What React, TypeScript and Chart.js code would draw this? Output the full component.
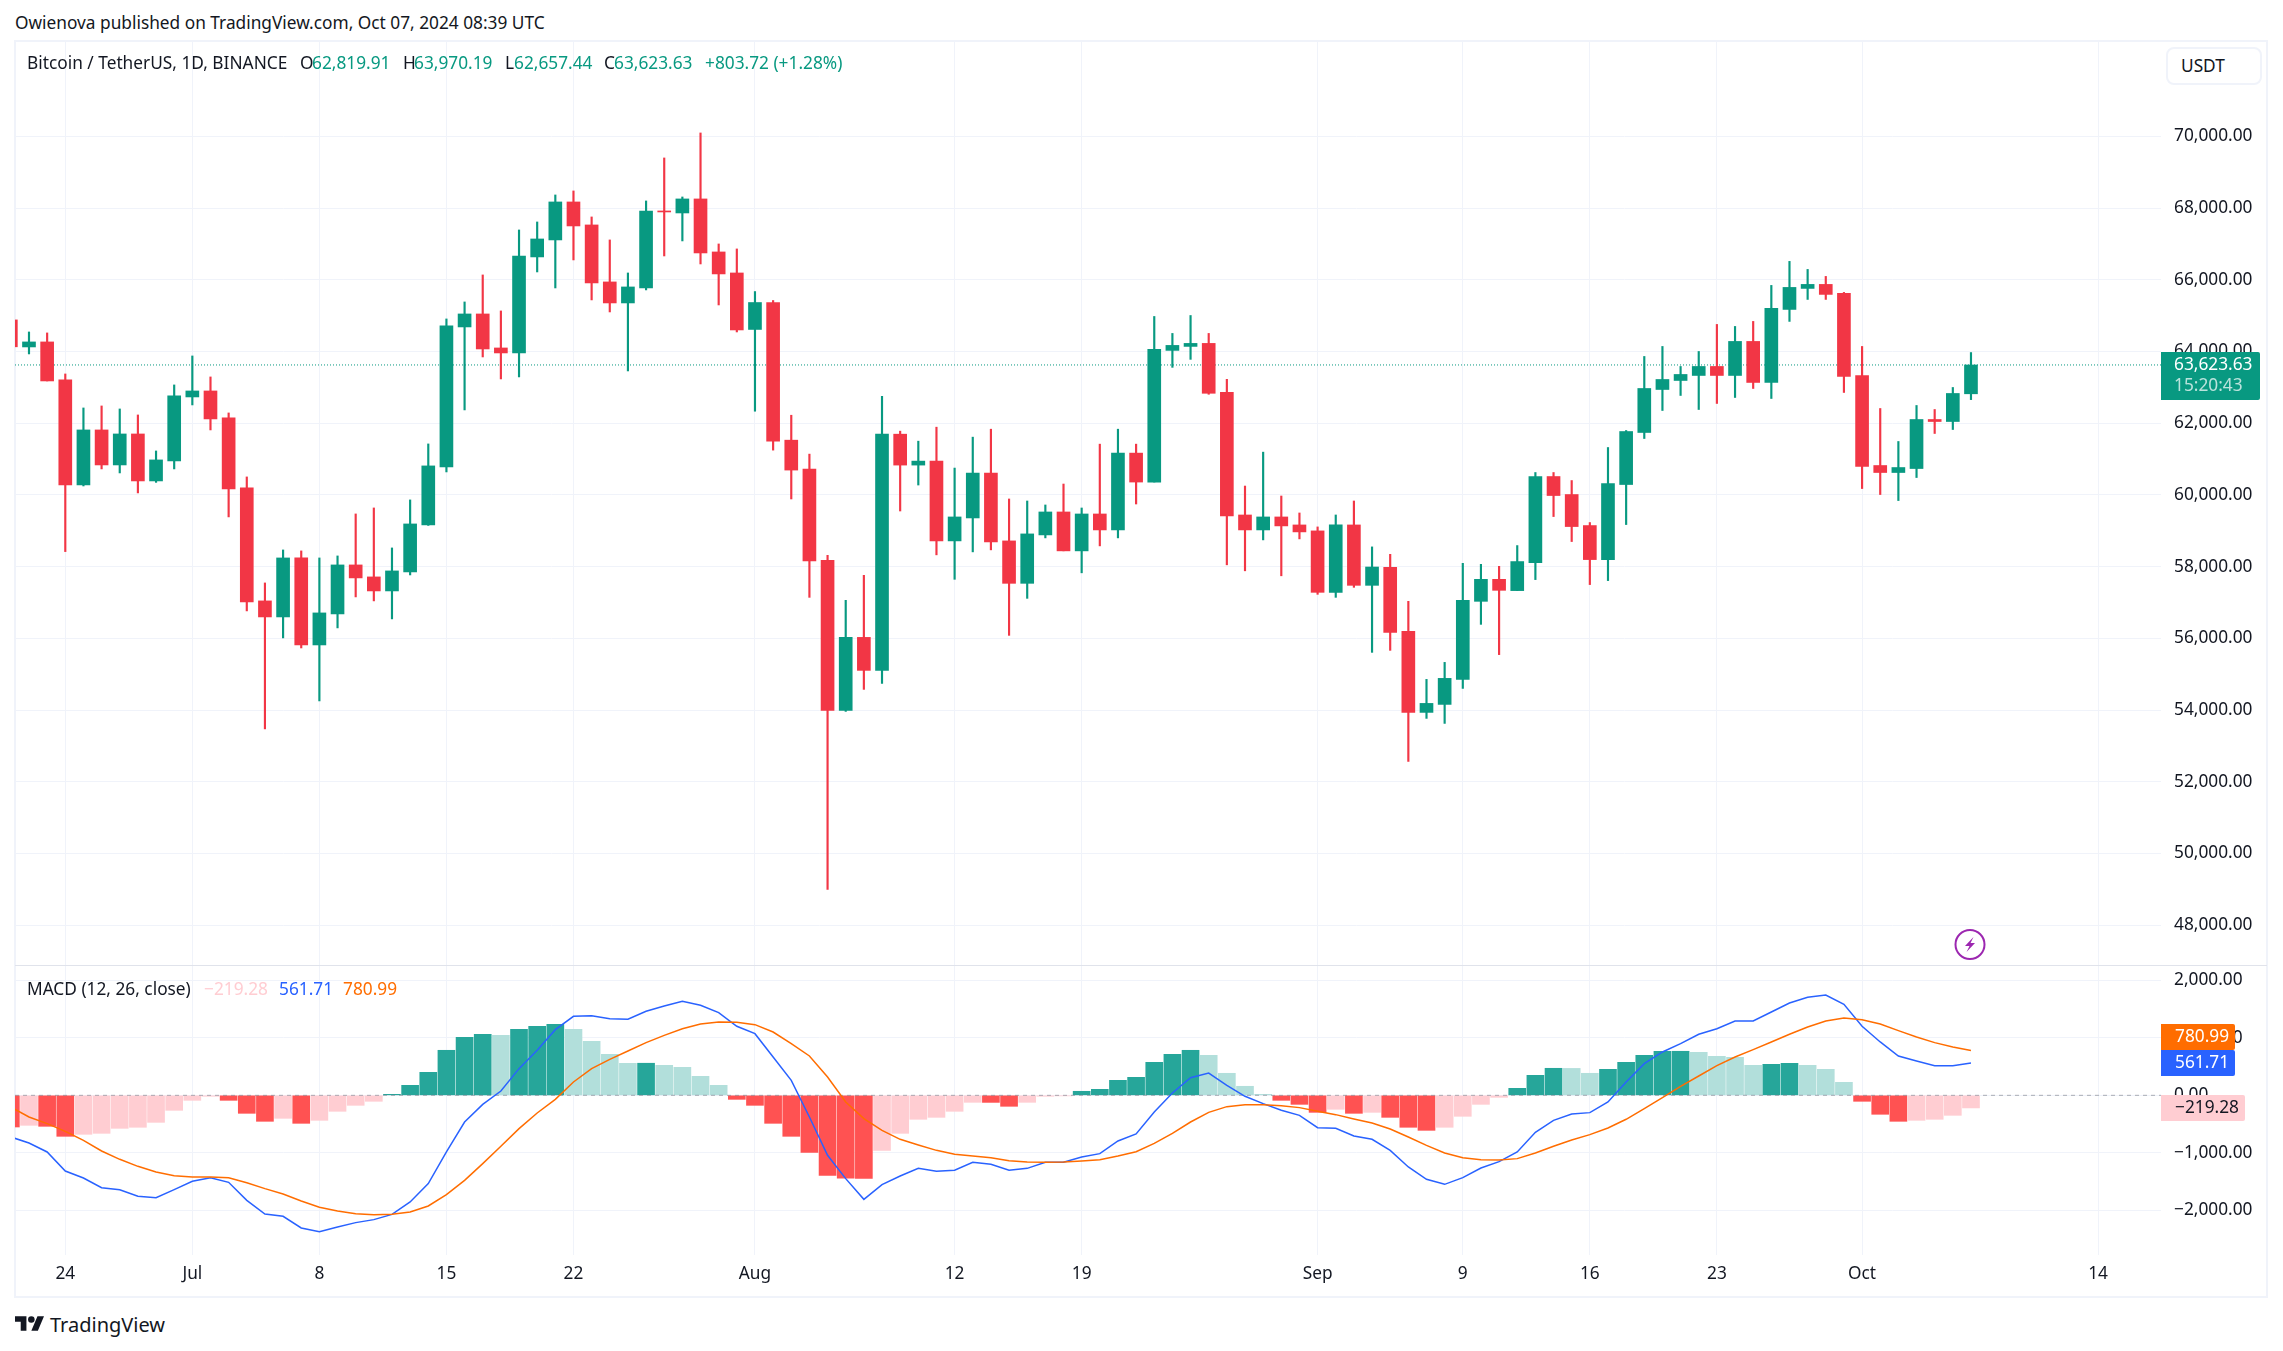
import React, { useEffect, useRef } from "react";
import { Chart, registerables } from "chart.js";

Chart.register(...registerables);

const tickDays = [0, 7, 14, 21, 28, 38, 49, 56, 69, 77, 84, 91, 99, 112];
const tickNames = ["24", "Jul", "8", "15", "22", "Aug", "12", "19", "Sep", "9", "16", "23", "Oct", "14"];
const priceTicks = [48000, 50000, 52000, 54000, 56000, 58000, 60000, 62000, 64000, 66000, 68000, 70000];
const priceTickNames = ["48,000.00", "50,000.00", "52,000.00", "54,000.00", "56,000.00", "58,000.00", "60,000.00", "62,000.00", "64,000.00", "66,000.00", "68,000.00", "70,000.00"];
const macdTicks = [-2000, -1000, 0, 1000, 2000];
const macdTickNames = ["\u22122,000.00", "\u22121,000.00", "0.00", "1,000.00", "2,000.00"];

const opens = [64880, 64126, 64266, 63206, 60279, 61812, 60836, 61700, 60390, 60948, 62732, 62899, 62147, 60195, 57045, 56598, 58243, 55817, 56682, 58048, 57714, 57323, 57853, 59164, 60780, 64684, 65046, 64098, 63959, 66636, 67110, 68169, 67528, 65939, 65353, 65771, 67918, 67862, 68253, 66775, 66189, 64614, 65365, 61527, 60721, 58177, 53992, 56028, 55108, 61694, 60832, 60943, 58718, 59358, 60609, 58718, 57535, 58885, 59525, 58440, 59469, 59024, 61166, 60359, 64030, 64141, 64225, 62862, 59441, 59024, 59386, 59163, 58997, 57284, 59163, 57479, 57981, 56196, 53936, 54159, 54857, 57033, 57647, 57332, 58114, 60513, 60011, 59146, 58197, 60290, 61741, 62940, 63191, 63331, 63582, 63331, 64280, 63136, 65172, 65758, 65870, 65619, 63331, 60820, 60625, 60736, 62103, 62047, 62819.91];
const highs = [64960, 64544, 64517, 63373, 62425, 62481, 62397, 62230, 61226, 63067, 63875, 63290, 62286, 60502, 57546, 58466, 58439, 58243, 58299, 59470, 59637, 58522, 59861, 61422, 64907, 65381, 66134, 65130, 67388, 67611, 68364, 68476, 67751, 67110, 66189, 68197, 69396, 68308, 70093, 66998, 66859, 65671, 65421, 62222, 61138, 58316, 57061, 57758, 62751, 61778, 61499, 61889, 60749, 61611, 61833, 59887, 59831, 59720, 60304, 59636, 61416, 61833, 61416, 64976, 64503, 65003, 64503, 63224, 60248, 61193, 59970, 59497, 59108, 59441, 59831, 58551, 58344, 57033, 54857, 55331, 58093, 58065, 58009, 58588, 60625, 60625, 60401, 59230, 61322, 61796, 63861, 64140, 63582, 64000, 64754, 64698, 64838, 65842, 66512, 66288, 66093, 65647, 64140, 62410, 61490, 62494, 62382, 62996, 63970.19];
const lows = [64050, 63931, 63178, 58420, 60250, 60725, 60613, 60056, 60350, 60725, 62509, 61812, 59387, 56766, 53476, 56013, 55733, 54256, 56292, 57156, 57045, 56543, 57769, 59150, 60641, 62370, 63847, 63234, 63290, 66217, 65771, 66552, 65437, 65102, 63457, 65716, 66663, 67082, 66440, 65297, 64544, 62334, 61249, 59887, 57144, 48998, 53964, 54578, 54745, 59552, 60276, 58329, 57647, 58412, 58468, 56084, 57116, 58802, 58440, 57828, 58579, 58802, 59747, 60359, 63557, 63780, 62806, 58051, 57884, 58746, 57745, 58774, 57228, 57144, 57423, 55610, 55666, 52569, 53769, 53629, 54605, 56391, 55547, 57332, 57639, 59397, 58700, 57500, 57611, 59174, 61573, 62354, 62773, 62382, 62550, 62717, 62968, 62689, 64838, 65451, 65451, 62857, 60178, 60011, 59843, 60485, 61713, 61824, 62657.44];
const closes = [64130, 64266, 63178, 60279, 61812, 60836, 61700, 60390, 60976, 62760, 62899, 62119, 60167, 57017, 56598, 58243, 55817, 56710, 58048, 57686, 57323, 57881, 59191, 60809, 64712, 65046, 64070, 63959, 66663, 67137, 68169, 67500, 65911, 65353, 65799, 67918, 67890, 68253, 66747, 66162, 64600, 65365, 61499, 60693, 58162, 53992, 56028, 55108, 61694, 60832, 60943, 58718, 59386, 60609, 58690, 57535, 58913, 59525, 58440, 59469, 59024, 61166, 60359, 64058, 64169, 64225, 62834, 59414, 59024, 59386, 59136, 58969, 57284, 59163, 57479, 57990, 56168, 53936, 54187, 54885, 57061, 57647, 57340, 58142, 60513, 59983, 59118, 58197, 60317, 61768, 62968, 63219, 63359, 63582, 63331, 64280, 63136, 65200, 65786, 65870, 65591, 63303, 60792, 60625, 60764, 62103, 62047, 62829, 63623.63];
const histogram = [-551, -522, -539, -713, -678, -661, -574, -556, -470, -261, -87, -17, -87, -313, -452, -400, -487, -435, -278, -174, -104, 17, 174, 400, 783, 1009, 1061, 1043, 1148, 1200, 1235, 1148, 939, 713, 556, 558, 522, 487, 330, 174, -70, -174, -487, -713, -991, -1391, -1443, -1445, -957, -661, -417, -383, -278, -122, -123, -191, -122, -17, -10, 70, 104, 261, 313, 574, 713, 783, 696, 383, 157, 17, -87, -157, -296, -243, -313, -296, -383, -556, -609, -556, -365, -157, -35, 122, 348, 470, 468, 383, 452, 574, 696, 765, 766, 748, 678, 661, 522, 539, 556, 522, 452, 226, -104, -330, -452, -435, -417, -348, -219.28];
const macdLine = [-725, -829, -985, -1316, -1438, -1606, -1641, -1756, -1780, -1641, -1496, -1432, -1513, -1826, -2064, -2104, -2307, -2371, -2290, -2214, -2162, -2070, -1855, -1536, -985, -464, -157, 75, 464, 783, 1142, 1374, 1385, 1333, 1322, 1461, 1554, 1635, 1565, 1438, 1200, 1072, 667, 261, -377, -1043, -1449, -1809, -1554, -1403, -1270, -1322, -1304, -1165, -1200, -1304, -1270, -1165, -1165, -1072, -1014, -794, -672, -290, 41, 307, 388, 174, -17, -145, -261, -348, -562, -574, -707, -765, -957, -1246, -1461, -1548, -1432, -1264, -1154, -985, -643, -435, -325, -301, -116, 232, 551, 754, 898, 1061, 1159, 1293, 1293, 1449, 1606, 1704, 1745, 1583, 1200, 928, 684, 597, 516, 516, 561.71];
const signalLine = [-203, -377, -493, -626, -783, -968, -1113, -1235, -1333, -1397, -1420, -1420, -1432, -1519, -1623, -1716, -1838, -1948, -2012, -2058, -2075, -2070, -2029, -1925, -1728, -1478, -1188, -887, -580, -307, -70, 232, 464, 626, 771, 916, 1043, 1159, 1241, 1275, 1270, 1229, 1101, 899, 684, 319, -116, -406, -609, -765, -864, -957, -1026, -1055, -1084, -1136, -1159, -1165, -1159, -1142, -1119, -1055, -980, -835, -661, -464, -296, -197, -162, -162, -180, -214, -278, -336, -412, -481, -586, -725, -870, -1003, -1084, -1119, -1125, -1101, -1003, -887, -777, -684, -568, -417, -232, -41, 157, 336, 516, 667, 794, 928, 1061, 1188, 1293, 1345, 1316, 1241, 1125, 1014, 916, 841, 780.99];

const firstDay = -3;
const lastPrice = 63623.63;
const lastPriceLabel = "63,623.63";
const countdown = "15:20:43";
const lastHist = -219.28;
const lastMacd = 561.71;
const lastSignal = 780.99;

const FONT = '"Noto Sans"';
const TXT = "#131722";
const UP = "#089981";
const DOWN = "#f23645";
const GRID = "#f0f3fa";
const X_MIN = -2.771;
const X_MAX = 115.47;
const AXIS_W = 107;
const FS = 17.3;

const days = opens.map((_, i) => i + firstDay);

const noPadding = (a: any) => {
  a.paddingLeft = 0;
  a.paddingRight = 0;
  a.paddingTop = 0;
  a.paddingBottom = 0;
};

const xScale = (showLabels: boolean) => ({
  type: "linear" as const,
  min: X_MIN,
  max: X_MAX,
  offset: false,
  border: { display: false },
  grid: { color: GRID, lineWidth: 1, drawTicks: false, offset: false },
  afterBuildTicks: (a: any) => {
    a.ticks = tickDays.map((value) => ({ value }));
  },
  afterFit: (a: any) => {
    a.height = showLabels ? 42 : 0;
    noPadding(a);
  },
  ticks: {
    display: showLabels,
    autoSkip: false,
    maxRotation: 0,
    padding: 9,
    color: TXT,
    font: { family: FONT, size: FS },
    callback: (v: any) => tickNames[tickDays.indexOf(v)] ?? "",
  },
});

const yScale = (min: number, max: number, vals: number[], names: string[]) => ({
  type: "linear" as const,
  position: "right" as const,
  min,
  max,
  border: { display: false },
  grid: { color: GRID, lineWidth: 1, drawTicks: false },
  afterBuildTicks: (a: any) => {
    a.ticks = vals.map((value) => ({ value }));
  },
  afterFit: (a: any) => {
    a.width = AXIS_W;
    noPadding(a);
  },
  ticks: {
    autoSkip: false,
    padding: 13,
    color: TXT,
    font: { family: FONT, size: FS },
    callback: (v: any) => names[vals.indexOf(v)] ?? "",
  },
});

function tag(ctx: CanvasRenderingContext2D, x: number, top: number, w: number, h: number, bg: string) {
  ctx.fillStyle = bg;
  ctx.beginPath();
  ctx.roundRect(x, top, w, h, [0, 2, 2, 0]);
  ctx.fill();
}

const priceTag = {
  id: "priceTag",
  afterDraw(chart: any) {
    const { ctx, chartArea: a, scales } = chart;
    const y = scales.y.getPixelForValue(lastPrice);
    ctx.save();
    tag(ctx, a.right, y - 13, 99, 48, UP);
    ctx.textBaseline = "middle";
    ctx.textAlign = "left";
    ctx.font = `${FS}px ${FONT}`;
    ctx.fillStyle = "#ffffff";
    ctx.fillText(lastPriceLabel, a.right + 13, y);
    ctx.fillStyle = "rgba(255,255,255,0.72)";
    ctx.fillText(countdown, a.right + 13, y + 21);
    ctx.restore();
  },
};

const macdTags = {
  id: "macdTags",
  afterDraw(chart: any) {
    const { ctx, chartArea: a, scales } = chart;
    const h = 26;
    const yB = scales.y.getPixelForValue(lastMacd);
    const yO = Math.min(scales.y.getPixelForValue(lastSignal), yB - h);
    const yH = scales.y.getPixelForValue(lastHist);
    ctx.save();
    ctx.textBaseline = "middle";
    ctx.textAlign = "left";
    ctx.font = `${FS}px ${FONT}`;
    tag(ctx, a.right, yO - h / 2, 74, h, "#ff6d00");
    ctx.fillStyle = "#ffffff";
    ctx.fillText(lastSignal.toFixed(2), a.right + 14, yO);
    tag(ctx, a.right, yB - h / 2, 74, h, "#2962ff");
    ctx.fillStyle = "#ffffff";
    ctx.fillText(lastMacd.toFixed(2), a.right + 14, yB);
    tag(ctx, a.right, yH - h / 2, 84, h, "#ffcdd2");
    ctx.fillStyle = TXT;
    ctx.fillText("\u2212" + Math.abs(lastHist).toFixed(2), a.right + 14, yH);
    ctx.restore();
  },
};

const histColor = (v: number, i: number) => {
  if (i === 0) return v >= 0 ? "#26a69a" : "#ff5252";
  const p = histogram[i - 1];
  if (v >= 0) return v > p ? "#26a69a" : "#b2dfdb";
  return v < p ? "#ff5252" : "#ffcdd2";
};

const base = {
  responsive: false,
  animation: false as const,
  devicePixelRatio: 1,
  layout: { padding: 0 },
  events: [] as any[],
  plugins: { legend: { display: false }, tooltip: { enabled: false }, title: { display: false } },
};

const abs = (left: number, top: number, extra: React.CSSProperties = {}): React.CSSProperties => ({
  position: "absolute",
  left,
  top,
  whiteSpace: "nowrap",
  fontFamily: FONT,
  fontSize: FS,
  lineHeight: "24px",
  color: TXT,
  ...extra,
});

export default function App() {
  const priceRef = useRef<HTMLCanvasElement>(null);
  const macdRef = useRef<HTMLCanvasElement>(null);

  useEffect(() => {
    document.body.style.margin = "0";
    const colors = days.map((_, i) => (closes[i] >= opens[i] ? UP : DOWN));
    const price = new Chart(priceRef.current!, {
      type: "bar",
      data: {
        datasets: [
          {
            type: "bar",
            label: "body",
            order: 1,
            data: days.map((x, i) => ({ x, y: [opens[i], closes[i]] })) as any,
            backgroundColor: colors,
            barThickness: 13,
            grouped: false,
          } as any,
          {
            type: "bar",
            label: "wick",
            order: 2,
            data: days.map((x, i) => ({ x, y: [lows[i], highs[i]] })) as any,
            backgroundColor: colors,
            barThickness: 1.5,
            grouped: false,
          } as any,
          {
            type: "line",
            label: "last",
            order: 3,
            data: [
              { x: X_MIN, y: lastPrice },
              { x: X_MAX, y: lastPrice },
            ],
            borderColor: UP,
            borderWidth: 1,
            borderDash: [1, 2],
            pointRadius: 0,
          } as any,
        ],
      },
      options: {
        ...base,
        scales: { x: xScale(false), y: yScale(46865, 72629, priceTicks, priceTickNames) },
      } as any,
      plugins: [priceTag],
    });

    const macd = new Chart(macdRef.current!, {
      type: "bar",
      data: {
        datasets: [
          {
            type: "line",
            label: "signal",
            order: 1,
            data: days.map((x, i) => ({ x, y: signalLine[i] })),
            borderColor: "#ff6d00",
            borderWidth: 1.5,
            pointRadius: 0,
            tension: 0,
          } as any,
          {
            type: "line",
            label: "macd",
            order: 2,
            data: days.map((x, i) => ({ x, y: macdLine[i] })),
            borderColor: "#2962ff",
            borderWidth: 1.5,
            pointRadius: 0,
            tension: 0,
          } as any,
          {
            type: "line",
            label: "zero",
            order: 3,
            data: [
              { x: X_MIN, y: 0 },
              { x: X_MAX, y: 0 },
            ],
            borderColor: "rgba(120,123,134,0.6)",
            borderWidth: 1,
            borderDash: [4, 4],
            pointRadius: 0,
          } as any,
          {
            type: "bar",
            label: "hist",
            order: 4,
            data: days.map((x, i) => ({ x, y: histogram[i] })),
            backgroundColor: histogram.map(histColor),
            barThickness: 17,
            grouped: false,
          } as any,
        ],
      },
      options: {
        ...base,
        scales: { x: xScale(true), y: yScale(-2777, 2249, macdTicks, macdTickNames) },
      } as any,
      plugins: [macdTags],
    });
    return () => {
      price.destroy();
      macd.destroy();
    };
  }, []);

  const green = { color: UP };
  return (
    <div style={{ position: "absolute", left: 0, top: 0, width: 2283, height: 1351, overflow: "hidden", background: "#fff" }}>
      <div style={abs(15, 11)}>Owienova published on TradingView.com, Oct 07, 2024 08:39 UTC</div>
      <div
        style={{
          position: "absolute",
          left: 14,
          top: 40,
          width: 2254,
          height: 1258,
          boxSizing: "border-box",
          border: "2px solid #f0f3fa",
        }}
      />
      <canvas ref={priceRef} width={2253} height={924} style={{ position: "absolute", left: 15, top: 42 }} />
      <div style={{ position: "absolute", left: 15, top: 965, width: 2252, height: 1, background: "#e0e3eb" }} />
      <canvas ref={macdRef} width={2253} height={331} style={{ position: "absolute", left: 15, top: 966 }} />

      <div style={abs(27, 51)}>Bitcoin / TetherUS, 1D, BINANCE</div>
      <div style={abs(300, 51)}>O</div>
      <div style={abs(312, 51, green)}>62,819.91</div>
      <div style={abs(403, 51)}>H</div>
      <div style={abs(414, 51, green)}>63,970.19</div>
      <div style={abs(505, 51)}>L</div>
      <div style={abs(514, 51, green)}>62,657.44</div>
      <div style={abs(604, 51)}>C</div>
      <div style={abs(614, 51, green)}>63,623.63</div>
      <div style={abs(705, 51, green)}>+803.72 (+1.28%)</div>

      <div
        style={{
          ...abs(2166, 47),
          width: 96,
          height: 38,
          boxSizing: "border-box",
          border: "2px solid #f0f3fa",
          borderRadius: 8,
          background: "#fff",
          paddingLeft: 13,
          lineHeight: "34px",
        }}
      >
        USDT
      </div>

      <div style={abs(27, 977)}>MACD (12, 26, close)</div>
      <div style={abs(204, 977, { color: "#ffcdd2" })}>{"\u2212219.28"}</div>
      <div style={abs(279, 977, { color: "#2962ff" })}>561.71</div>
      <div style={abs(343, 977, { color: "#ff6d00" })}>780.99</div>

      <svg style={{ position: "absolute", left: 1954, top: 928 }} width={32} height={33} viewBox="0 0 32 33">
        <circle cx={16} cy={16.5} r={14.5} fill="#fff" stroke="#9c27b0" strokeWidth={2} />
        <path d="M19.5 9 L11 18 L15.5 18 L12.5 24 L21 15 L16.5 15 Z" fill="#9c27b0" />
      </svg>

      <svg style={{ position: "absolute", left: 15, top: 1316 }} width={29} height={15} viewBox="0 4 35.5 18">
        <path d="M14 22H7V11H0V4h14v18zM28 22h-8l7.5-18h8L28 22z" fill={TXT} />
        <circle cx={20} cy={8} r={4} fill={TXT} />
      </svg>
      <div style={abs(50, 1312, { fontSize: 20, lineHeight: "26px" })}>TradingView</div>
    </div>
  );
}
